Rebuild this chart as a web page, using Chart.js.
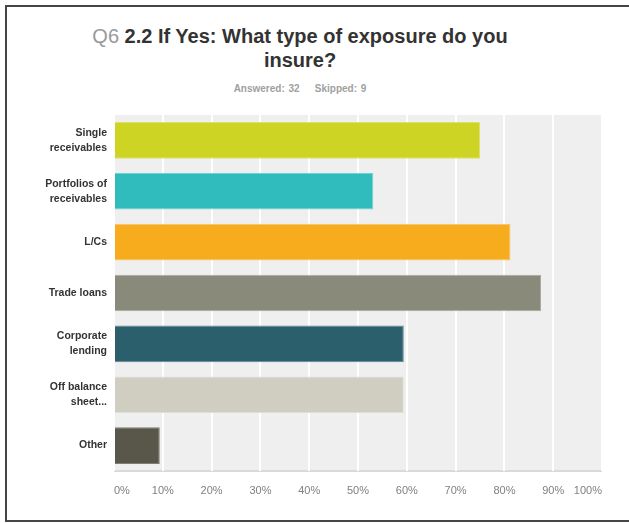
<!DOCTYPE html>
<html>
<head>
<meta charset="utf-8">
<script src="https://cdn.jsdelivr.net/npm/chart.js@4"></script>
<style>
  body { margin: 0; background: #fff; font-family: "Liberation Sans", Arial, sans-serif; }
  #wrap { position: relative; width: 629px; height: 523px; overflow: hidden; }
  #frame {
    position: absolute; left: 5px; top: 5px; width: 640px; height: 513px;
    border: 2px solid #454545; pointer-events: none;
  }
  #title {
    position: absolute; left: 0; top: 24px; width: 600px; text-align: center;
    font-size: 20px; line-height: 24px; font-weight: bold; color: #333;
  }
  #title .qnum { font-weight: normal; color: #999; }
  #sub {
    position: absolute; left: 0; top: 83px; width: 600px; text-align: center;
    font-size: 10px; font-weight: bold; color: #a0a0a0; word-spacing: 1px;
  }
  canvas { position: absolute; left: 0; top: 0; }
</style>
</head>
<body>
<div id="wrap">
  <div id="title"><span class="qnum">Q6</span> 2.2 If Yes: What type of exposure do you<br>insure?</div>
  <div id="sub">Answered: 32&nbsp;&nbsp;&nbsp;&nbsp;Skipped: 9</div>
  <canvas id="chart" width="629" height="523"></canvas>
  <div id="frame"></div>
</div>
<script>
// answer options (multi-line labels)
const categories = [
  ['Single', 'receivables'],
  ['Portfolios of', 'receivables'],
  'L/Cs',
  'Trade loans',
  ['Corporate', 'lending'],
  ['Off balance', 'sheet...'],
  'Other'
];
// share of respondents, %
const percentages = [75.0, 53.13, 81.25, 87.5, 59.38, 59.38, 9.38];
const barColors = ['#cdd423', '#30bcbd', '#f6ac1c', '#898a7a', '#2c5f6c', '#cfcec1', '#58574a'];
const barEdges = ['#dde26a', '#6fd2d2', '#f9c56a', '#a9aa9d', '#5d8590', '#dfdfd5', '#7f7e74'];
const xTicks = [0, 10, 20, 30, 40, 50, 60, 70, 80, 90, 100];

// grey panel behind the bars
const plotBg = {
  id: 'plotBg',
  beforeDraw(chart) {
    const { ctx, chartArea: a } = chart;
    ctx.save();
    ctx.fillStyle = '#efefef';
    ctx.fillRect(a.left, a.top, a.right - a.left, a.bottom - a.top);
    ctx.fillStyle = '#d9d9d9';
    ctx.fillRect(a.left, a.bottom - 1, a.right - a.left, 2);
    ctx.restore();
  }
};

new Chart(document.getElementById('chart'), {
  type: 'bar',
  data: {
    labels: categories,
    datasets: [{
      data: percentages,
      backgroundColor: barColors,
      borderColor: barEdges,
      borderWidth: 1,
      categoryPercentage: 1,
      barPercentage: 0.72
    }]
  },
  options: {
    indexAxis: 'y',
    responsive: false,
    animation: false,
    layout: { padding: { top: 115, right: 27, left: 0, bottom: 0 } },
    plugins: { legend: { display: false }, tooltip: { enabled: false } },
    scales: {
      x: {
        min: 0,
        max: 100,
        afterBuildTicks(scale) { scale.ticks = xTicks.map(v => ({ value: v })); },
        afterFit(scale) { scale.height = 52; },
        border: { display: false },
        grid: { color: '#ffffff', lineWidth: 2, drawTicks: false },
        ticks: {
          align: 'inner',
          padding: 13,
          color: '#808080',
          font: { family: '"Liberation Sans", Arial, sans-serif', size: 11 },
          callback: v => v + '%'
        }
      },
      y: {
        afterFit(scale) { scale.width = 114; },
        border: { display: false },
        grid: { display: false, drawTicks: false },
        ticks: {
          padding: 7,
          color: '#333',
          font: { family: '"Liberation Sans", Arial, sans-serif', size: 10.5, weight: 'bold', lineHeight: 1.45 }
        }
      }
    }
  },
  plugins: [plotBg]
});
</script>
</body>
</html>
